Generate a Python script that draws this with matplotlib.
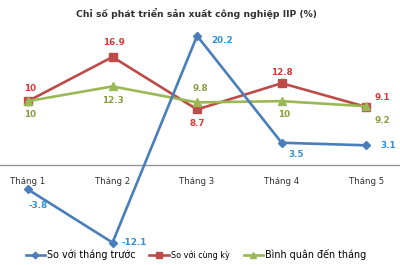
import numpy as np
import matplotlib.pyplot as plt

# --- Data -----------------------------------------------------------------
months = ["Tháng 1", "Tháng 2", "Tháng 3", "Tháng 4", "Tháng 5"]
so_thang_truoc = [-3.8, -12.1, 20.2, 3.5, 3.1]
so_cung_ky = [10, 16.9, 8.7, 12.8, 9.1]
binh_quan = [10, 12.3, 9.8, 10, 9.2]

title = "Chỉ số phát triển sản xuất công nghiệp IIP (%)"
legend_labels = ["So với tháng trước", "So với cùng kỳ", "Bình quân đến tháng"]

# label offsets in pixels (dx, dy)
off_blue = [(10, -16), (22, 0), (25, -5), (15, -12), (22, 0)]
off_red = [(2, 13), (1, 14), (0, -14), (0, 11), (16, 9)]
off_green = [(2, -13), (0, -14), (3, 14), (2, -13), (16, -14)]

BLUE, RED, GREEN = "#4A7EBB", "#BE4B48", "#98B954"
BLUE_T, RED_T, GREEN_T = "#2F8FD8", "#D9393B", "#8C9C44"

# --------------------------------------------------------------------------
fig = plt.figure(figsize=(4, 2.65), dpi=100, facecolor="white")
ax = fig.add_axes([0, 0, 1, 1])
ax.set_xlim(-0.331, 4.4)
ax.set_ylim(-15.6, 25.8)
ax.axis("off")

x = np.arange(len(months))
ax.axhline(0, color="#8C8C8C", lw=0.9, zorder=1)

l1, = ax.plot(x, so_thang_truoc, color=BLUE, lw=1.9, marker="D", ms=4.5, zorder=4)
l2, = ax.plot(x, so_cung_ky, color=RED, lw=1.9, marker="s", ms=5.5, zorder=3)
l3, = ax.plot(x, binh_quan, color=GREEN, lw=1.9, marker="^", ms=5.5, zorder=3)


def fmt(v):
    return f"{v:g}"


for vals, offs, col in [(so_thang_truoc, off_blue, BLUE_T),
                        (so_cung_ky, off_red, RED_T),
                        (binh_quan, off_green, GREEN_T)]:
    for xi, v, (dx, dy) in zip(x, vals, offs):
        ax.annotate(fmt(v), (xi, v), xytext=(dx, dy), textcoords="offset pixels",
                    ha="center", va="center", fontsize=6.3, fontweight="bold",
                    color=col, zorder=5)

for xi, m in zip(x, months):
    ax.annotate(m, (xi, 0), xytext=(0, -16), textcoords="offset pixels",
                ha="center", va="center", fontsize=6.2, color="#303030")

fig.text(0.49, 0.95, title, ha="center", va="center", fontsize=6.7,
         fontweight="bold", color="#303030")

leg = fig.legend([l1, l2, l3], legend_labels, loc="center", bbox_to_anchor=(0.49, 0.04),
                 ncol=3, frameon=False, fontsize=6.9, handlelength=2.0,
                 handletextpad=0.25, columnspacing=1.45, markerscale=0.75)
leg.get_texts()[1].set_fontsize(5.8)

plt.savefig("out.png", dpi=100, facecolor="white")
